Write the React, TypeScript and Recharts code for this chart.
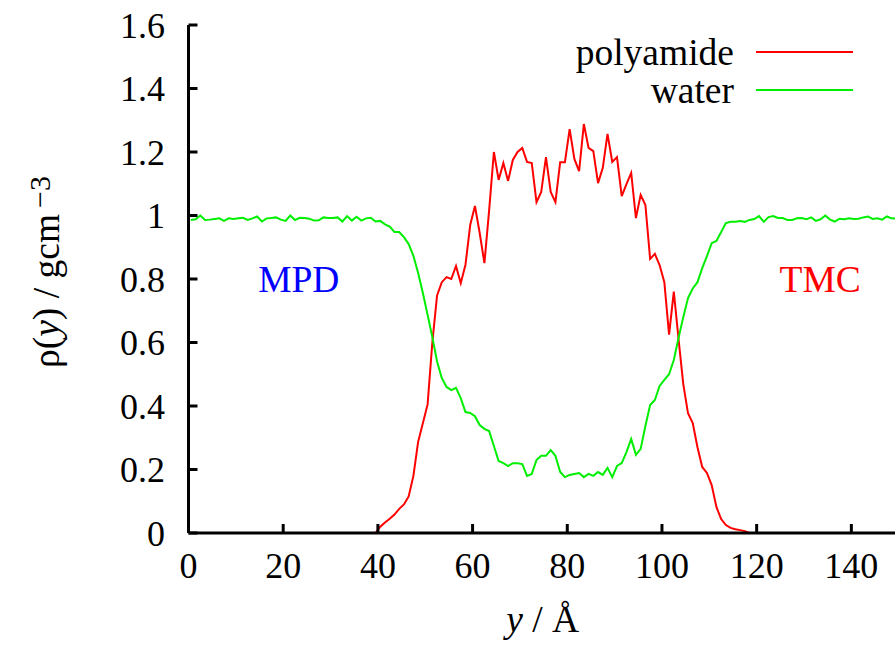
import React from 'react';
import { LineChart, Line, XAxis, YAxis, Legend, ReferenceDot } from 'recharts';

// sampling grid (bin centres, Å)
const positions: number[] = Array.from({ length: 150 }, (_, i) => i + 0.5);

const waterDensity = [
  0.986, 0.988, 1.0, 0.986, 0.987, 0.989, 0.991, 0.983, 0.991, 0.989,
  0.991, 0.993, 0.986, 0.991, 0.997, 0.981, 0.991, 0.992, 0.994, 0.987,
  0.983, 1.0, 0.986, 0.993, 0.992, 0.99, 0.984, 0.985, 0.994, 0.992,
  0.992, 0.994, 0.981, 0.998, 0.984, 0.996, 0.984, 0.991, 0.993, 0.981,
  0.983, 0.972, 0.965, 0.948, 0.948, 0.932, 0.91, 0.873, 0.819, 0.756,
  0.687, 0.617, 0.54, 0.488, 0.46, 0.45, 0.457, 0.425, 0.381, 0.378,
  0.368, 0.34, 0.328, 0.321, 0.274, 0.227, 0.22, 0.211, 0.22, 0.22,
  0.217, 0.18, 0.186, 0.23, 0.243, 0.243, 0.261, 0.243, 0.192, 0.176,
  0.183, 0.186, 0.189, 0.176, 0.186, 0.18, 0.192, 0.183, 0.205, 0.176,
  0.211, 0.22, 0.255, 0.296, 0.246, 0.265, 0.337, 0.403, 0.419, 0.463,
  0.482, 0.5, 0.545, 0.614, 0.68, 0.74, 0.77, 0.79, 0.834, 0.872,
  0.913, 0.92, 0.948, 0.976, 0.98, 0.98, 0.983, 0.98, 0.986, 0.989,
  0.998, 0.98, 0.995, 0.998, 0.992, 0.992, 0.986, 0.986, 0.991, 0.992,
  0.988, 0.994, 0.983, 0.988, 1.0, 0.987, 0.981, 0.99, 0.988, 0.991,
  0.989, 0.99, 0.994, 0.997, 0.989, 0.991, 0.987, 0.997, 0.991, 0.99,
];

// polyamide profile starts at grid index 39 (y = 39.5 Å)
const polyamideStartIndex = 39;
const polyamideDensity = [
  0.0, 0.02, 0.033, 0.045, 0.058, 0.076, 0.09, 0.115, 0.18, 0.287,
  0.346, 0.405, 0.6, 0.748, 0.79, 0.806, 0.8, 0.841, 0.787, 0.845,
  0.97, 1.03, 0.945, 0.85, 1.017, 1.2, 1.112, 1.165, 1.109, 1.175,
  1.2, 1.213, 1.169, 1.165, 1.042, 1.074, 1.184, 1.074, 1.042, 1.168,
  1.168, 1.272, 1.178, 1.14, 1.288, 1.213, 1.203, 1.102, 1.15, 1.257,
  1.169, 1.184, 1.061, 1.099, 1.134, 0.992, 1.065, 1.033, 0.863, 0.879,
  0.844, 0.79, 0.625, 0.76, 0.611, 0.469, 0.377, 0.346, 0.27, 0.208,
  0.189, 0.151, 0.082, 0.044, 0.025, 0.016, 0.012, 0.009, 0.006, 0.0,
];

const xTicks = [0, 20, 40, 60, 80, 100, 120, 140];
const yTicks = [0, 0.2, 0.4, 0.6, 0.8, 1, 1.2, 1.4, 1.6];
const seriesNames = ['polyamide', 'water'];
const regionNames = ['MPD', 'TMC'];

const data = positions.map((pos, i) => {
  const j = i - polyamideStartIndex;
  return {
    pos,
    water: waterDensity[i],
    polyamide: j >= 0 && j < polyamideDensity.length ? polyamideDensity[j] : null,
  };
});

const FONT = 'Liberation Serif, DejaVu Serif, serif';
const FS = 36;
const FL = 37.5;

const renderLegend = (props: any) => {
  const payload = props.payload || [];
  return (
    <svg width={330} height={90} style={{ overflow: 'visible', display: 'block', fontFamily: FONT }}>
      {payload.map((p: any, i: number) => (
        <g key={i}>
          <text x={174} y={35 + i * 37.5} textAnchor="end" fontSize={FL} style={{ fontFamily: FONT }} fill="#000">
            {p.value}
          </text>
          <line x1={196} x2={293} y1={22 + i * 38} y2={22 + i * 38} stroke={p.color} strokeWidth={2} />
        </g>
      ))}
    </svg>
  );
};

const XLabel = (props: any) => {
  const vb = props.viewBox || { x: 0, y: 0, width: 0, height: 0 };
  return (
    <text x={vb.x + vb.width / 2 - 1} y={vb.y + 99} textAnchor="middle" fontSize={FL} style={{ fontFamily: FONT }} fill="#000">
      <tspan fontStyle="italic">y</tspan>
      <tspan> / Å</tspan>
    </text>
  );
};

const YLabel = (props: any) => {
  const vb = props.viewBox || { x: 0, y: 0, width: 0, height: 0 };
  const cx = 59;
  const cy = vb.y + vb.height / 2 - 7;
  return (
    <text transform={`translate(${cx},${cy}) rotate(-90)`} textAnchor="middle" fontSize={FL} style={{ fontFamily: FONT }} fill="#000">
      <tspan>ρ(</tspan>
      <tspan fontStyle="italic">y</tspan>
      <tspan>) / gcm</tspan>
      <tspan dx={6} dy={-9} fontSize={30}>−3</tspan>
    </text>
  );
};

const axisStroke = { stroke: '#000', strokeWidth: 3 };
const tickStyle = { fill: '#000', fontSize: FS, fontFamily: FONT, style: { fontFamily: FONT } };

export default function App() {
  return (
    <div style={{ position: 'absolute', left: 0, top: 0, width: 895, height: 646, overflow: 'hidden', fontFamily: FONT }}>
      <LineChart
        width={930}
        height={646}
        data={data}
        margin={{ top: 25, right: 31.3, left: 0, bottom: 0 }}
        style={{ fontFamily: FONT }}
      >
        <XAxis
          xAxisId="bottom"
          dataKey="pos"
          type="number"
          domain={[0, 150]}
          ticks={xTicks}
          height={113}
          tickSize={-9}
          tickMargin={28.4}
          axisLine={axisStroke}
          tickLine={axisStroke}
          tick={tickStyle}
          label={<XLabel />}
        />
        <XAxis
          xAxisId="top"
          orientation="top"
          dataKey="pos"
          type="number"
          domain={[0, 150]}
          ticks={xTicks}
          height={0}
          tickSize={-9}
          axisLine={axisStroke}
          tickLine={axisStroke}
          tick={false}
        />
        <YAxis
          yAxisId="left"
          type="number"
          domain={[0, 1.6]}
          ticks={yTicks}
          width={188.5}
          tickSize={-9}
          tickMargin={32.5}
          axisLine={axisStroke}
          tickLine={axisStroke}
          tick={tickStyle}
          tickFormatter={(v: number) => String(v)}
          label={<YLabel />}
        />
        <YAxis
          yAxisId="right"
          orientation="right"
          type="number"
          domain={[0, 1.6]}
          ticks={yTicks}
          width={0}
          tickSize={-9}
          axisLine={axisStroke}
          tickLine={axisStroke}
          tick={false}
        />
        <Line
          xAxisId="bottom"
          yAxisId="left"
          type="linear"
          dataKey="polyamide"
          name={seriesNames[0]}
          stroke="#ff0000"
          strokeWidth={2}
          dot={false}
          activeDot={false}
          isAnimationActive={false}
        />
        <Line
          xAxisId="bottom"
          yAxisId="left"
          type="linear"
          dataKey="water"
          name={seriesNames[1]}
          stroke="#00ee00"
          strokeWidth={2}
          dot={false}
          activeDot={false}
          isAnimationActive={false}
        />
        <ReferenceDot
          xAxisId="bottom"
          yAxisId="left"
          x={23.3}
          y={0.8}
          r={0}
          fill="none"
          stroke="none"
          ifOverflow="visible"
          label={{ value: regionNames[0], position: 'center', fill: '#0000ff', fontSize: FL, fontFamily: FONT, style: { fontFamily: FONT } }}
        />
        <ReferenceDot
          xAxisId="bottom"
          yAxisId="left"
          x={133.4}
          y={0.8}
          r={0}
          fill="none"
          stroke="none"
          ifOverflow="visible"
          label={{ value: regionNames[1], position: 'center', fill: '#ff0000', fontSize: FL, fontFamily: FONT, style: { fontFamily: FONT } }}
        />
        <Legend
          layout="horizontal"
          verticalAlign="middle"
          align="center"
          wrapperStyle={{ left: 560, top: 30, width: 330, height: 90 }}
          content={renderLegend}
        />
      </LineChart>
    </div>
  );
}
